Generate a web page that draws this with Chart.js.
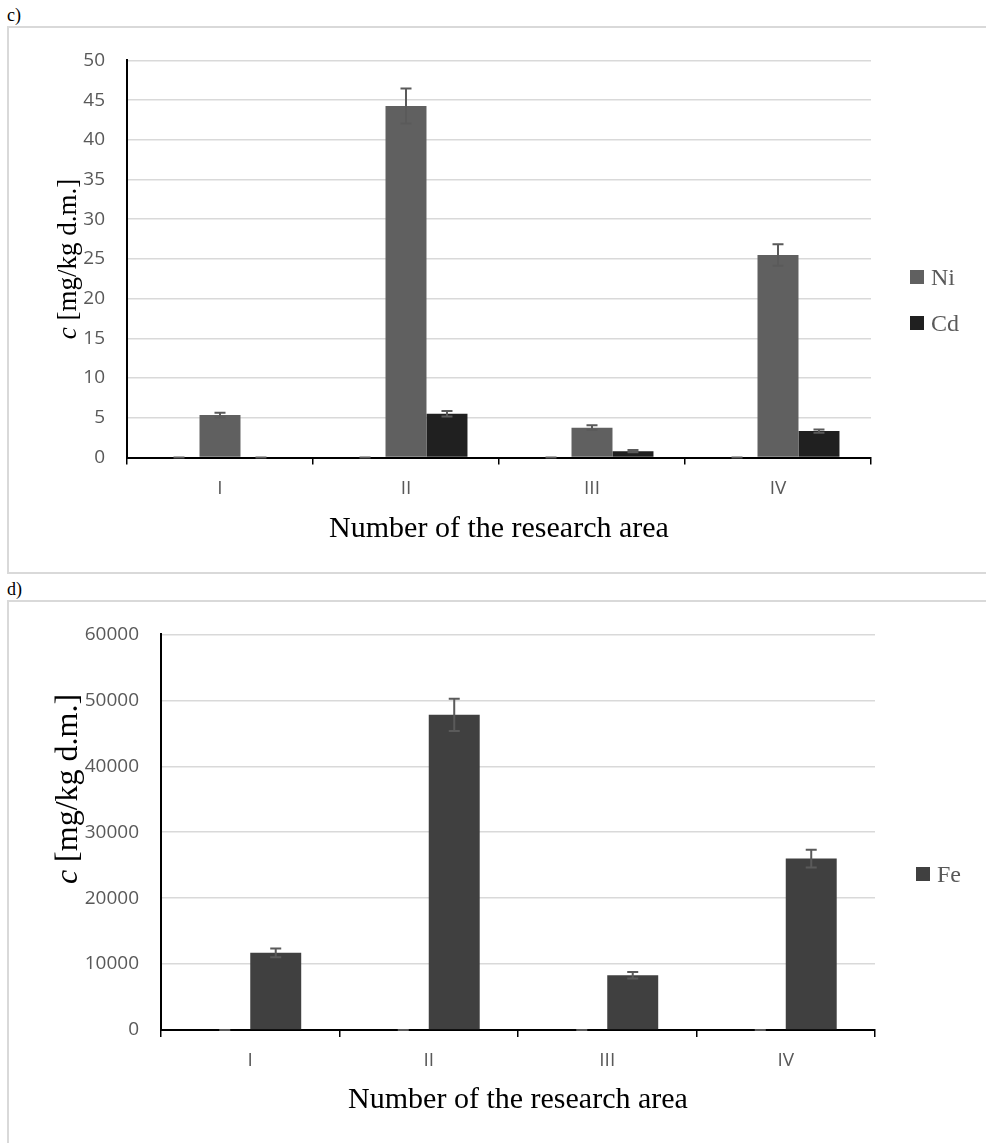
<!DOCTYPE html>
<html>
<head>
<meta charset="utf-8">
<script src="https://cdn.jsdelivr.net/npm/chart.js@4.4.1/dist/chart.umd.min.js"></script>
<style>
body{margin:0;background:#fff;width:986px;height:1143px;overflow:hidden;position:relative;font-family:"Liberation Serif","Times New Roman",serif;}
.tag{position:absolute;left:7px;font-size:18px;line-height:20px;color:#000;}
.box{position:absolute;left:7px;width:995px;border:2px solid #d9d9d9;box-sizing:border-box;pointer-events:none;}
canvas{position:absolute;left:0;}
.leg{position:absolute;font-size:24px;color:#595959;}
.leg div{display:flex;align-items:center;height:46px;}
.leg .sw{display:inline-block;width:14px;height:14px;margin-right:7px;}
</style>
</head>
<body>
<div class="tag" style="top:5px">c)</div>
<div class="box" style="top:26px;height:548px"></div>
<canvas id="chartC" width="986" height="546" style="top:27px"></canvas>
<div class="leg" id="legC" style="left:910px;top:254px"></div>

<div class="tag" style="top:579px">d)</div>
<div class="box" style="top:600px;height:560px"></div>
<canvas id="chartD" width="986" height="542" style="top:601px"></canvas>
<div class="leg" id="legD" style="left:916px;top:851px"></div>

<script>
var areas = ['I', 'II', 'III', 'IV'];

// chart c) Ni and Cd, mg/kg d.m.
var blankC = [0, 0, 0, 0];
var ni = [5.35, 44.25, 3.75, 25.5];
var niErr = [0.3, 2.2, 0.3, 1.35];
var cd = [0, 5.5, 0.8, 3.33];
var cdErr = [0, 0.35, 0.15, 0.2];

// chart d) Fe, mg/kg d.m.
var blankD = [0, 0, 0, 0];
var fe = [11700, 47800, 8300, 26000];
var feErr = [650, 2450, 490, 1350];

var tickFont = {family: "'Open Sans', sans-serif", size: 19};
var serif = "'Liberation Serif', 'Times New Roman', serif";

var errorBars = {
  id: 'errorBars',
  afterDatasetsDraw: function(chart) {
    var ctx = chart.ctx, y = chart.scales.y;
    chart.data.datasets.forEach(function(ds, i) {
      if (!ds.errors) return;
      chart.getDatasetMeta(i).data.forEach(function(bar, j) {
        var v = ds.data[j], e = ds.errors[j];
        var top = y.getPixelForValue(v + e), bot = y.getPixelForValue(v - e);
        ctx.save();
        ctx.strokeStyle = '#5a5a5a';
        ctx.lineWidth = 2;
        ctx.beginPath();
        ctx.moveTo(bar.x, top); ctx.lineTo(bar.x, bot);
        ctx.moveTo(bar.x - 5.5, top); ctx.lineTo(bar.x + 5.5, top);
        ctx.moveTo(bar.x - 5.5, bot); ctx.lineTo(bar.x + 5.5, bot);
        ctx.stroke();
        ctx.restore();
      });
    });
  }
};

// y axis title with an italic "c"
var yTitle = {
  id: 'yTitle',
  afterDraw: function(chart, args, opts) {
    var ctx = chart.ctx, a = chart.chartArea;
    var cy = opts.y != null ? opts.y : (a.top + a.bottom) / 2;
    var fItal = 'italic ' + opts.size + 'px ' + serif;
    var fReg = opts.size + 'px ' + serif;
    var rest = ' [mg/kg d.m.]';
    ctx.save();
    ctx.font = fItal; var w1 = ctx.measureText('c').width;
    ctx.font = fReg; var w2 = ctx.measureText(rest).width;
    ctx.translate(opts.x, cy);
    ctx.rotate(-Math.PI / 2);
    ctx.fillStyle = '#000';
    ctx.textBaseline = 'middle';
    ctx.textAlign = 'left';
    var sx = -(w1 + w2) / 2;
    ctx.font = fItal; ctx.fillText('c', sx, 0);
    ctx.font = fReg; ctx.fillText(rest, sx + w1, 0);
    ctx.restore();
  }
};

function makeChart(id, legId, datasets, cfg) {
  var chart = new Chart(document.getElementById(id), {
    type: 'bar',
    data: {labels: areas, datasets: datasets},
    plugins: [errorBars, yTitle],
    options: {
      responsive: false,
      animation: false,
      layout: {padding: {top: cfg.top, right: cfg.right, bottom: 0, left: 0}},
      datasets: {bar: {categoryPercentage: cfg.cat, barPercentage: 1}},
      plugins: {
        legend: {display: false},
        tooltip: {enabled: false},
        yTitle: {x: 69, size: cfg.titleSize, y: cfg.titleY}
      },
      scales: {
        x: {
          grid: {display: true, drawOnChartArea: false, drawTicks: true, tickLength: 7, color: '#000', lineWidth: 1.5, offset: true},
          border: {display: true, color: '#000', width: 2},
          ticks: {padding: 12.5, color: '#595959', font: tickFont},
          title: {display: true, text: 'Number of the research area', color: '#000',
                  font: {family: serif, size: 30}, padding: {top: 0, bottom: cfg.xTitlePad}},
          afterFit: function(s) { s.height = cfg.xHeight; }
        },
        y: {
          min: 0, max: cfg.max,
          ticks: {stepSize: cfg.step, padding: 22, color: '#595959', font: tickFont,
                  callback: function(v) { return String(v); }},
          grid: {color: '#d9d9d9', lineWidth: 1.5, drawTicks: false},
          border: {display: true, color: '#000', width: 2},
          afterFit: function(s) { s.width = cfg.yWidth; }
        }
      }
    }
  });
  var leg = document.getElementById(legId);
  chart.data.datasets.forEach(function(ds) {
    if (!ds.label) return;
    var row = document.createElement('div');
    var sw = document.createElement('span');
    sw.className = 'sw';
    sw.style.background = ds.backgroundColor;
    row.appendChild(sw);
    row.appendChild(document.createTextNode(ds.label));
    leg.appendChild(row);
  });
  return chart;
}

makeChart('chartC', 'legC', [
  {label: '', data: blankC, errors: blankC, backgroundColor: '#000'},
  {label: 'Ni', data: ni, errors: niErr, backgroundColor: '#606060'},
  {label: 'Cd', data: cd, errors: cdErr, backgroundColor: '#202020'}
], {top: 28, right: 115, cat: 0.661, max: 50, step: 5, yWidth: 127, xHeight: 115.5, xTitlePad: 25.5, titleSize: 27});

makeChart('chartD', 'legD', [
  {label: '', data: blankD, errors: blankD, backgroundColor: '#000'},
  {label: 'Fe', data: fe, errors: feErr, backgroundColor: '#404040'}
], {top: 27, right: 111, cat: 0.571, max: 60000, step: 10000, yWidth: 161, xHeight: 113, xTitlePad: 24.5, titleSize: 32, titleY: 188});
</script>
</body>
</html>
